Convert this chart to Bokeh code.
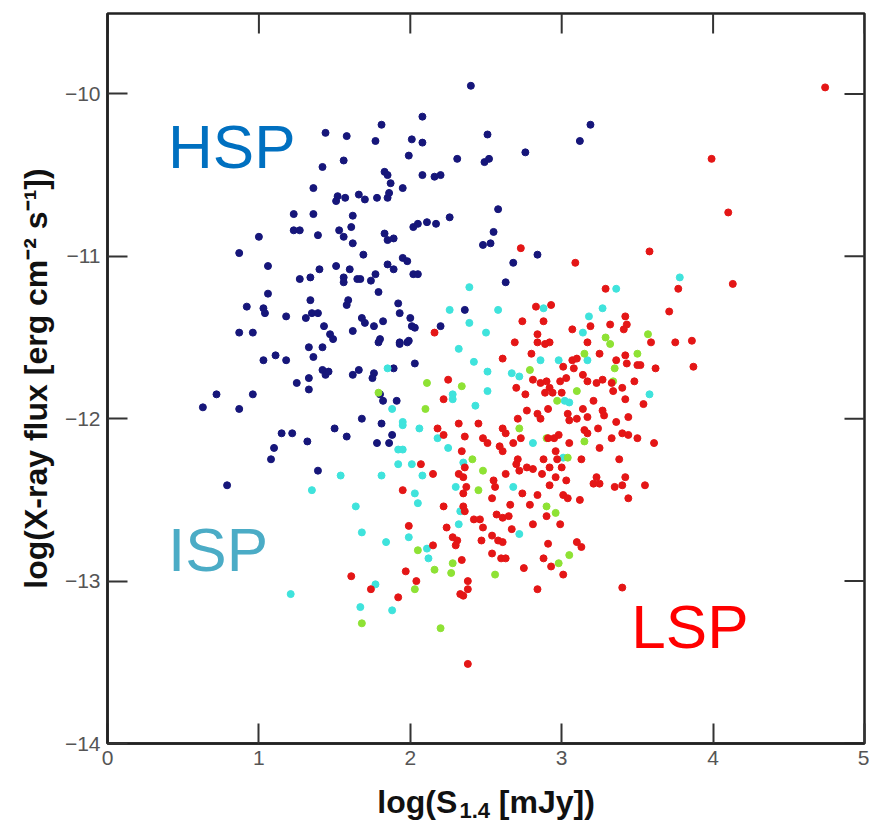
import math
from bokeh.plotting import figure
from bokeh.models import Range1d, Label, FixedTicker
from bokeh.layouts import column
from bokeh.core.properties import value
from bokeh.embed import file_html
from bokeh.resources import INLINE

# ---------------- data ----------------
x_ticks = [0, 1, 2, 3, 4, 5]
x_tick_labels = ["0", "1", "2", "3", "4", "5"]
y_ticks = [-14, -13, -12, -11, -10]
y_tick_labels = ["\u221214", "\u221213", "\u221212", "\u221211", "\u221210"]

# HSP (dark blue)
hsp_x = [1.44, 1.58, 1.81, 1.77, 2.08, 2.01, 2.08, 1.99, 1.56, 1.42, 1.83, 1.85, 1.87, 1.95, 2.08,
         1.36, 1.52, 1.51, 1.57, 1.66, 1.70, 1.78, 1.85, 1.86, 1.23, 1.36, 1.23, 1.27, 1.39, 1.53,
         1.56, 1.61, 1.62, 1.62, 1.83, 1.85, 1.89, 2.02, 2.05, 2.11, 1.00, 0.87, 1.69, 1.95, 1.98,
         1.85, 1.89, 2.02, 2.05, 1.06, 1.40, 1.51, 1.60, 1.27, 1.34, 1.56, 1.56, 1.65, 1.67, 1.74,
         1.77, 1.06, 1.79, 1.92, 1.93, 0.92, 1.03, 1.04, 1.18, 1.34, 1.35, 1.39, 1.31, 1.58, 1.59,
         1.68, 1.70, 1.76, 1.82, 2.00, 2.01, 2.03, 1.43, 1.47, 1.49, 1.62, 0.87, 0.96, 1.80, 1.93,
         1.99, 2.40, 2.51, 2.31, 2.49, 2.52, 2.76, 3.19, 3.12, 2.16, 2.20, 2.58, 2.26, 2.17, 2.55,
         2.48, 2.53, 2.68, 2.84, 2.63, 2.36, 2.20, 1.03, 1.11, 1.18, 1.33, 1.42, 1.36, 1.42, 1.44,
         1.46, 1.62, 1.66, 1.76, 1.75, 1.79, 1.93, 1.98, 2.03, 1.25, 1.33, 1.33, 0.72, 0.63, 0.87,
         0.96, 1.80, 1.82, 1.91, 1.68, 1.81, 1.50, 1.58, 1.15, 1.22, 1.32, 1.78, 1.86, 1.88, 1.10,
         1.08, 1.39, 0.79, 1.89]
hsp_y = [-10.24, -10.26, -10.19, -10.29, -10.14, -10.28, -10.30, -10.38, -10.41, -10.45, -10.48,
         -10.50, -10.55, -10.58, -10.50, -10.58, -10.63, -10.66, -10.64, -10.62, -10.65, -10.64,
         -10.64, -10.61, -10.74, -10.74, -10.84, -10.84, -10.87, -10.84, -10.88, -10.82, -10.75,
         -10.92, -10.86, -10.90, -10.89, -10.82, -10.80, -10.79, -10.88, -10.98, -10.99, -11.01,
         -11.03, -11.05, -11.08, -11.11, -11.11, -11.06, -11.08, -11.06, -11.08, -11.14, -11.13,
         -11.13, -11.16, -11.14, -11.14, -11.15, -11.11, -11.23, -11.22, -11.29, -11.35, -11.31,
         -11.32, -11.35, -11.37, -11.27, -11.35, -11.35, -11.38, -11.30, -11.27, -11.38, -11.41,
         -11.43, -11.40, -11.38, -11.43, -11.44, -11.43, -11.48, -11.51, -11.46, -11.47, -11.47,
         -11.51, -11.53, -11.52, -9.95, -10.25, -10.40, -10.42, -10.40, -10.36, -10.19, -10.29,
         -10.51, -10.50, -10.71, -10.76, -10.80, -10.85, -10.93, -10.92, -11.04, -10.99, -11.16,
         -11.33, -11.43, -11.64, -11.61, -11.64, -11.56, -11.56, -11.62, -11.70, -11.73, -11.71,
         -11.73, -11.70, -11.72, -11.75, -11.53, -11.54, -11.53, -11.66, -11.78, -11.75, -11.82,
         -11.85, -11.93, -11.94, -11.85, -11.85, -11.89, -11.89, -12.00, -12.03, -12.06, -12.11,
         -12.09, -12.09, -12.14, -12.15, -12.15, -12.10, -12.18, -12.25, -12.32, -12.41, -11.69]

# ISP (cyan)
isp_x = [2.39, 2.26, 2.39, 2.58, 2.50, 2.88, 3.18, 3.27, 3.14, 3.36, 3.78, 1.85, 1.88, 1.95, 1.95,
         2.06, 1.92, 1.95, 1.92, 2.01, 2.08, 1.81, 1.54, 1.35, 2.03, 2.05, 1.64, 1.68, 1.84, 1.99,
         2.11, 1.21, 1.67, 1.88, 1.77, 2.32, 2.42, 2.51, 2.51, 2.67, 2.72, 2.98, 2.86, 3.17, 3.02,
         3.05, 2.43, 2.28, 2.28, 2.18, 2.25, 2.81, 3.01, 3.58, 2.30, 2.33, 2.32, 2.72, 2.68, 2.35,
         2.12]
isp_y = [-11.19, -11.33, -11.41, -11.33, -11.47, -11.32, -11.37, -11.32, -11.47, -11.20, -11.13,
         -11.69, -11.94, -12.02, -12.04, -12.06, -12.19, -12.19, -12.28, -12.28, -12.35, -12.35,
         -12.35, -12.44, -12.46, -12.52, -12.54, -12.70, -12.76, -12.73, -12.80, -13.08, -13.16,
         -13.18, -13.02, -11.57, -11.65, -11.71, -11.83, -11.72, -11.74, -11.64, -11.64, -11.64,
         -11.89, -11.90, -11.92, -11.85, -11.88, -12.12, -12.18, -12.15, -12.24, -11.85, -12.42,
         -12.57, -12.65, -12.71, -12.42, -12.27, -12.86]

# intermediate group (green)
grn_x = [3.29, 3.57, 2.11, 2.10, 1.79, 2.05, 2.03, 1.68, 2.34, 2.79, 3.10, 2.97, 3.32, 3.50, 3.15,
         2.72, 3.35, 2.90, 2.41, 2.48, 2.45, 2.90, 2.96, 3.04, 3.15, 3.34, 2.16, 2.28, 2.27, 2.56,
         2.98, 3.05, 2.20]
grn_y = [-11.50, -11.48, -11.78, -11.94, -11.84, -12.81, -13.05, -13.26, -11.80, -11.70, -11.83,
         -11.89, -11.54, -11.60, -11.60, -12.06, -11.69, -12.12, -12.25, -12.32, -12.44, -12.54,
         -12.58, -12.24, -12.14, -11.77, -12.93, -12.89, -12.95, -12.96, -12.89, -12.84, -13.29]

# LSP (red)
lsp_x = [2.73, 3.09, 3.58, 3.29, 2.83, 2.93, 2.74, 2.88, 3.07, 3.19, 3.32, 3.42, 3.43, 3.41, 2.16,
         2.84, 2.69, 2.84, 2.92, 3.59, 3.71, 4.74, 3.99, 4.10, 4.13, 3.77, 3.75, 3.86, 3.62, 3.87,
         3.52, 2.07, 1.95, 1.99, 1.97, 2.04, 1.61, 1.74, 1.92, 2.89, 3.17, 3.25, 3.42, 3.43, 3.50,
         3.36, 2.61, 2.80, 3.01, 3.07, 3.08, 3.10, 2.25, 2.81, 2.86, 2.90, 2.92, 2.89, 2.94, 2.99,
         3.03, 3.00, 3.17, 3.23, 3.27, 3.33, 3.34, 3.40, 3.48, 2.70, 2.76, 2.22, 3.14, 2.77, 2.84,
         2.86, 2.91, 3.04, 3.05, 3.10, 3.14, 3.17, 3.21, 3.27, 3.28, 3.36, 3.42, 3.44, 3.54, 2.18,
         2.32, 2.45, 2.71, 2.61, 2.63, 2.22, 2.36, 2.48, 2.51, 2.59, 2.68, 2.73, 2.91, 2.95, 2.98,
         3.05, 3.15, 3.17, 3.24, 3.25, 3.33, 3.40, 3.44, 3.50, 2.34, 2.61, 2.71, 2.70, 2.77, 2.88,
         2.96, 2.97, 3.13, 3.38, 2.15, 2.32, 2.36, 2.35, 2.55, 2.56, 2.63, 2.72, 2.81, 2.87, 2.92,
         2.96, 3.00, 3.03, 3.23, 3.25, 3.21, 3.42, 3.40, 3.35, 3.55, 2.37, 2.35, 2.74, 2.84, 2.92,
         3.01, 3.04, 3.12, 3.44, 2.54, 2.22, 2.35, 2.36, 2.42, 2.46, 2.57, 2.61, 2.66, 2.65, 2.79,
         2.90, 2.99, 2.28, 2.31, 2.30, 2.48, 2.54, 2.58, 2.61, 2.81, 2.67, 2.47, 2.91, 3.10, 2.24,
         2.15, 3.13, 2.54, 2.60, 2.63, 2.88, 2.93, 2.75, 3.01, 2.34, 2.38, 2.38, 2.33, 2.35, 2.84,
         3.40, 2.38, 3.61]
lsp_y = [-10.95, -11.04, -10.97, -11.20, -11.31, -11.30, -11.40, -11.40, -11.45, -11.43, -11.42,
         -11.37, -11.42, -11.45, -11.47, -11.48, -11.53, -11.53, -11.53, -11.53, -11.34, -9.96,
         -10.40, -10.73, -11.17, -11.20, -11.53, -11.52, -11.69, -11.68, -11.67, -12.28, -12.44,
         -12.66, -12.94, -13.00, -12.97, -13.05, -13.10, -11.54, -11.53, -11.60, -11.61, -11.66,
         -11.67, -11.64, -11.63, -11.60, -11.68, -11.64, -11.69, -11.63, -11.76, -11.76, -11.78,
         -11.77, -11.81, -11.84, -11.84, -11.77, -11.75, -11.84, -11.77, -11.78, -11.76, -11.78,
         -11.83, -11.81, -11.77, -11.81, -11.85, -11.88, -11.73, -11.95, -11.97, -12.00, -11.94,
         -11.97, -12.01, -12.00, -11.94, -11.99, -11.89, -11.95, -11.98, -12.02, -11.88, -11.99,
         -11.91, -12.06, -12.03, -12.03, -12.00, -12.06, -12.09, -12.10, -12.11, -12.12, -12.15,
         -12.17, -12.15, -12.12, -12.12, -12.12, -12.10, -12.15, -12.07, -12.09, -12.06, -12.18,
         -12.12, -12.09, -12.10, -12.12, -12.20, -12.20, -12.25, -12.28, -12.30, -12.25, -12.20,
         -12.25, -12.25, -12.25, -12.34, -12.34, -12.30, -12.36, -12.38, -12.42, -12.34, -12.32,
         -12.31, -12.34, -12.30, -12.36, -12.30, -12.38, -12.36, -12.40, -12.40, -12.36, -12.41,
         -12.42, -12.41, -12.42, -12.46, -12.46, -12.47, -12.41, -12.47, -12.49, -12.50, -12.49,
         -12.49, -12.54, -12.54, -12.57, -12.62, -12.62, -12.59, -12.61, -12.53, -12.60, -12.53,
         -12.60, -12.65, -12.73, -12.75, -12.78, -12.67, -12.72, -12.75, -12.76, -12.65, -12.68,
         -12.75, -12.77, -12.76, -12.67, -12.78, -12.79, -12.83, -12.86, -12.86, -12.86, -12.91,
         -12.92, -12.96, -12.87, -13.00, -13.05, -13.08, -13.09, -13.05, -13.04, -13.51, -12.15]

class_names = ["HSP", "ISP", "LSP"]
x_title_parts = ["log(S", "1.4", "[mJy])"]
y_title = "log(X-ray flux [erg cm\u207b\u00b2 s\u207b\u00b9])"

FONT = "Liberation Sans"
TICK_COLOR = "#333333"
FRAME_COLOR = "#222222"

# ---------------- main figure ----------------
x_range = Range1d(0, 5)
y_range = Range1d(-14, -9.505)
p = figure(width=869, height=776, output_backend="svg", toolbar_location=None,
           x_range=x_range, y_range=y_range,
           min_border_left=107, min_border_right=5, min_border_top=13, min_border_bottom=33,
           background_fill_color="white", border_fill_color="white")
p.grid.visible = False
p.outline_line_color = FRAME_COLOR
p.outline_line_width = 2.5

xax = p.xaxis[0]
yax = p.yaxis[0]
xax.ticker = FixedTicker(ticks=x_ticks)
yax.ticker = FixedTicker(ticks=y_ticks)
xax.major_label_overrides = {t: s for t, s in zip(x_ticks, x_tick_labels)}
yax.major_label_overrides = {t: s for t, s in zip(y_ticks, y_tick_labels)}
for ax in (xax, yax):
    ax.major_tick_in = 20
    ax.major_tick_out = 0
    ax.minor_tick_line_color = None
    ax.major_tick_line_color = TICK_COLOR
    ax.major_tick_line_width = 2
    ax.axis_line_color = FRAME_COLOR
    ax.axis_line_width = 2.5
    ax.major_label_text_font = FONT
    ax.major_label_text_color = "#555555"
    ax.major_label_text_font_size = "21px"
xax.major_label_standoff = 7
yax.major_label_standoff = 7

yax.axis_label = y_title
yax.axis_label_text_font = FONT
yax.axis_label_text_font_style = "bold"
yax.axis_label_text_font_size = "32px"
yax.axis_label_text_color = "#111111"
yax.axis_label_standoff = 8

# mirrored inward ticks on the top and right frame edges (dash markers clipped by the frame)
p.scatter(x=x_ticks, y=[y_range.end] * len(x_ticks), marker="dash", size=40,
          angle=math.pi / 2, line_color=TICK_COLOR, line_width=2)
p.scatter(x=[x_range.end] * len(y_ticks), y=y_ticks, marker="dash", size=40,
          line_color=TICK_COLOR, line_width=2)

# points
p.scatter(hsp_x, hsp_y, size=7, color="#16167a")
p.scatter(isp_x, isp_y, size=7, color="#3fe3dc")
p.scatter(grn_x, grn_y, size=7, color="#8ee234")
p.scatter(lsp_x, lsp_y, size=7, color="#e41616")

# class labels
for name, lx, ly, col in zip(class_names, [0.40, 0.40, 3.46], [-10.325, -12.805, -13.28],
                             ["#0070c0", "#4bacc6", "#ff0000"]):
    p.add_layout(Label(x=lx, y=ly, text=name, text_font=FONT, text_font_size="62px",
                       text_color=col, text_baseline="alphabetic"))

# ---------------- x-axis title strip (shares the x scale) ----------------
t = figure(width=869, height=47, output_backend="svg", toolbar_location=None,
           x_range=x_range, y_range=Range1d(0, 47),
           min_border_left=107, min_border_right=5, min_border_top=0, min_border_bottom=0,
           x_axis_location=None, y_axis_location=None,
           background_fill_color="white", border_fill_color="white")
t.grid.visible = False
t.outline_line_color = None
t.text(x=[1.782, 2.585], y=[22, 22], text=[x_title_parts[0], x_title_parts[2]],
       text_font=value(FONT), text_font_style="bold", text_font_size="32px",
       text_color="#111111", text_baseline="alphabetic", text_align="left")
t.text(x=[2.325], y=[13], text=[x_title_parts[1]],
       text_font=value(FONT), text_font_style="bold", text_font_size="22px",
       text_color="#111111", text_baseline="alphabetic", text_align="left")

layout = column(p, t, spacing=0)
open("out.html", "w").write(file_html(layout, INLINE))
